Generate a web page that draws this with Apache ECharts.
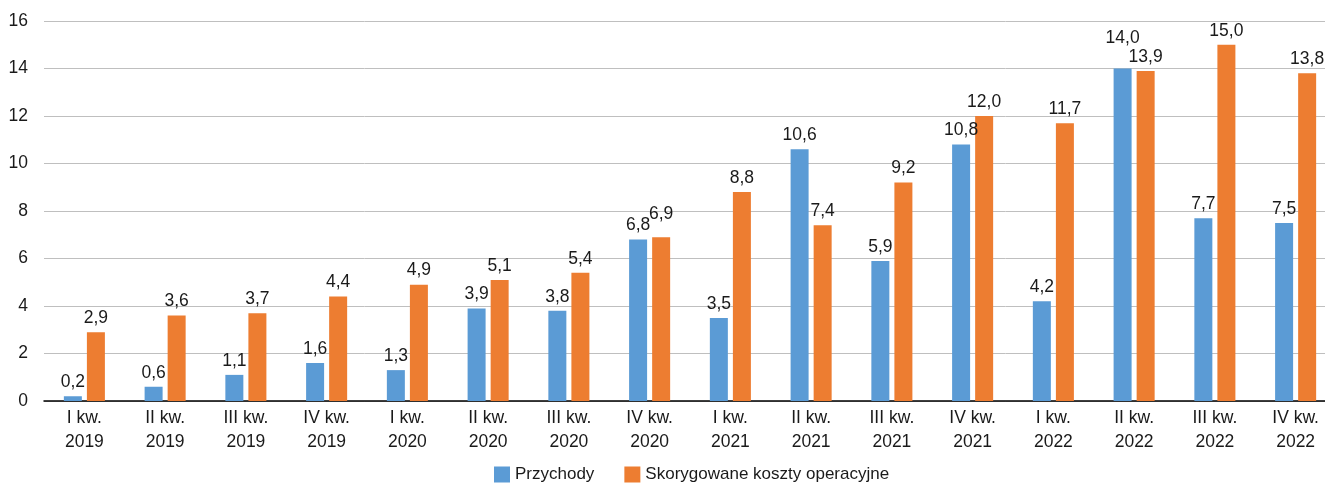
<!DOCTYPE html>
<html lang="pl" style="height: 100%">
<head>
  <meta charset="utf-8">
</head>
<body style="height: 100%; margin: 0; background: #fff">
  <div id="container" style="width: 1325px; height: 490px"></div>
  <script src="https://cdn.jsdelivr.net/npm/echarts@6/dist/echarts.min.js"></script>
  <script>
    var quarters = ['I kw.\n2019', 'II kw.\n2019', 'III kw.\n2019', 'IV kw.\n2019',
                    'I kw.\n2020', 'II kw.\n2020', 'III kw.\n2020', 'IV kw.\n2020',
                    'I kw.\n2021', 'II kw.\n2021', 'III kw.\n2021', 'IV kw.\n2021',
                    'I kw.\n2022', 'II kw.\n2022', 'III kw.\n2022', 'IV kw.\n2022'];
    var przychody = [0.2, 0.6, 1.1, 1.6, 1.3, 3.9, 3.8, 6.8, 3.5, 10.6, 5.9, 10.8, 4.2, 14.0, 7.7, 7.5];
    var koszty = [2.9, 3.6, 3.7, 4.4, 4.9, 5.1, 5.4, 6.9, 8.8, 7.4, 9.2, 12.0, 11.7, 13.9, 15.0, 13.8];
    var seriesNames = ['Przychody', 'Skorygowane koszty operacyjne'];

    var font = "'Liberation Sans', Arial, sans-serif";
    var myChart = echarts.init(document.getElementById('container'), null, { renderer: 'canvas' });

    var labelCfg = {
      show: true,
      position: 'top',
      distance: 5,
      color: '#1a1a1a',
      fontFamily: font,
      fontSize: 17.5,
      formatter: function (p) { return p.value.toFixed(1).replace('.', ','); }
    };

    // nudge labels that would collide (like the original did)
    function withOffsets(values, offsets) {
      return values.map(function (v, i) {
        if (offsets[i]) return { value: v, label: { offset: offsets[i] } };
        return v;
      });
    }

    var option = {
      animation: false,
      textStyle: { fontFamily: font },
      // the plot runs a little past the right edge of the picture
      grid: { left: 44, width: 1292, top: 21, bottom: 89, containLabel: false, outerBoundsMode: 'none' },
      legend: {
        bottom: 2,
        left: 489,
        itemWidth: 16,
        itemHeight: 16,
        itemGap: 30,
        icon: 'rect',
        textStyle: { fontFamily: font, fontSize: 17, color: '#1a1a1a' },
        data: seriesNames
      },
      xAxis: {
        type: 'category',
        data: quarters,
        axisLine: { lineStyle: { color: '#000', width: 1.5 } },
        axisTick: { show: false },
        axisLabel: { fontFamily: font, fontSize: 17.5, color: '#1a1a1a', lineHeight: 24, margin: 5, interval: 0 }
      },
      yAxis: {
        type: 'value',
        min: 0,
        max: 16,
        interval: 2,
        axisLine: { show: false },
        axisTick: { show: false },
        axisLabel: { fontFamily: font, fontSize: 17.5, color: '#1a1a1a', margin: 16 },
        splitLine: { lineStyle: { color: '#bfbfbf', width: 1 } }
      },
      series: [
        {
          name: seriesNames[0],
          type: 'bar',
          data: withOffsets(przychody, { 13: [0, -16] }),
          barWidth: 18,
          barGap: '28%',
          itemStyle: { color: '#5b9bd5' },
          label: labelCfg
        },
        {
          name: seriesNames[1],
          type: 'bar',
          data: withOffsets(koszty, { 7: [0, -9] }),
          barWidth: 18,
          itemStyle: { color: '#ed7d31' },
          label: labelCfg
        }
      ]
    };

    myChart.setOption(option);
    window.addEventListener('resize', myChart.resize);
  </script>
</body>
</html>
